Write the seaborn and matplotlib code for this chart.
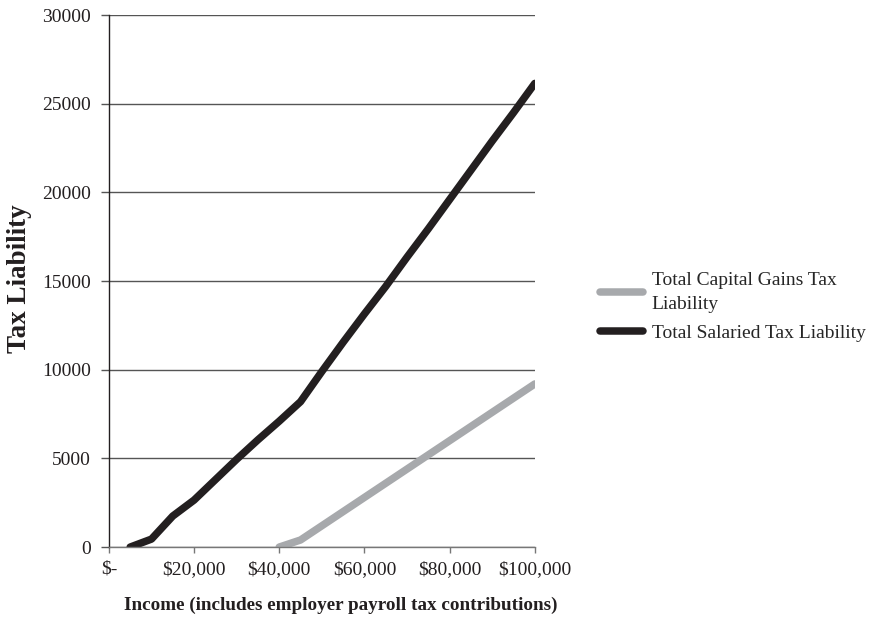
import matplotlib
matplotlib.use('Agg')
import matplotlib.pyplot as plt
from matplotlib.ticker import FuncFormatter
import seaborn as sns
import pandas as pd

# Values (income in dollars, liability in dollars)
salaried_income = [5000, 10000, 15000, 20000, 25000, 30000, 35000, 40000, 45000, 50000,
                   55000, 60000, 65000, 70000, 75000, 80000, 85000, 90000, 95000, 100000]
salaried_tax = [0, 450, 1750, 2650, 3800, 4950, 6050, 7100, 8200, 9900,
                11550, 13150, 14700, 16350, 17950, 19600, 21250, 22900, 24500, 26150]

capgains_income = [40000, 45000, 50000, 55000, 60000, 65000, 70000, 75000, 80000, 85000,
                   90000, 95000, 100000]
capgains_tax = [0, 400, 1200, 2000, 2800, 3600, 4400, 5200, 6000, 6800, 7600, 8400, 9200]

x_ticks = [0, 20000, 40000, 60000, 80000, 100000]
y_ticks = [0, 5000, 10000, 15000, 20000, 25000, 30000]

cg_label = 'Total Capital Gains Tax\nLiability'
sal_label = 'Total Salaried Tax Liability'

sns.set_style('white')
plt.rcParams['font.family'] = ['Liberation Serif', 'DejaVu Serif']

cg = pd.DataFrame({'income': capgains_income, 'tax': capgains_tax})
sal = pd.DataFrame({'income': salaried_income, 'tax': salaried_tax})

fig = plt.figure(figsize=(8.71, 6.31), dpi=100)
ax = fig.add_axes([0.125, 0.133, 0.489, 0.843])

sns.lineplot(data=cg, x='income', y='tax', ax=ax, color='#a7a9ac', linewidth=5.4,
             label=cg_label, solid_capstyle='round', solid_joinstyle='round')
sns.lineplot(data=sal, x='income', y='tax', ax=ax, color='#231f20', linewidth=5.4,
             label=sal_label, solid_capstyle='round', solid_joinstyle='round')

ax.set_xlim(0, 100000)
ax.set_ylim(0, 30000)
ax.set_xticks(x_ticks)
ax.set_yticks(y_ticks)
ax.xaxis.set_major_formatter(FuncFormatter(lambda v, p: '$-' if v == 0 else f'${v:,.0f}'))
ax.yaxis.set_major_formatter(FuncFormatter(lambda v, p: f'{v:.0f}'))

ax.yaxis.grid(True, color='#555555', linewidth=1.0)
ax.set_axisbelow(True)
for s in ['top', 'right']:
    ax.spines[s].set_visible(False)
ax.spines['left'].set_color('#231f20')
ax.spines['left'].set_linewidth(1.0)
ax.spines['bottom'].set_color('#777777')
ax.spines['bottom'].set_linewidth(1.0)
ax.tick_params(axis='y', which='major', left=True, length=6, width=1.0, color='#555555',
               labelsize=14, pad=7)
ax.tick_params(axis='x', which='major', bottom=True, length=4, width=1.0, color='#777777',
               labelsize=14, pad=6)
for lbl in ax.get_xticklabels() + ax.get_yticklabels():
    lbl.set_color('#231f20')

ax.set_xlabel('')
ax.set_ylabel('')
fig.text(0.022, 0.558, 'Tax Liability', rotation=90, ha='center', va='center',
         fontsize=19.5, fontweight='bold', color='#231f20')
fig.text(0.391, 0.040, 'Income (includes employer payroll tax contributions)',
         ha='center', va='center', fontsize=13.8, fontweight='bold', color='#231f20')

leg = ax.legend(loc='center left', bbox_to_anchor=(0.680, 0.514), bbox_transform=fig.transFigure,
                frameon=False, fontsize=14, handlelength=2.2, handletextpad=0.46,
                labelspacing=0.55, borderaxespad=0)
for t in leg.get_texts():
    t.set_linespacing(1.6)

fig.savefig('out.png', dpi=100)
